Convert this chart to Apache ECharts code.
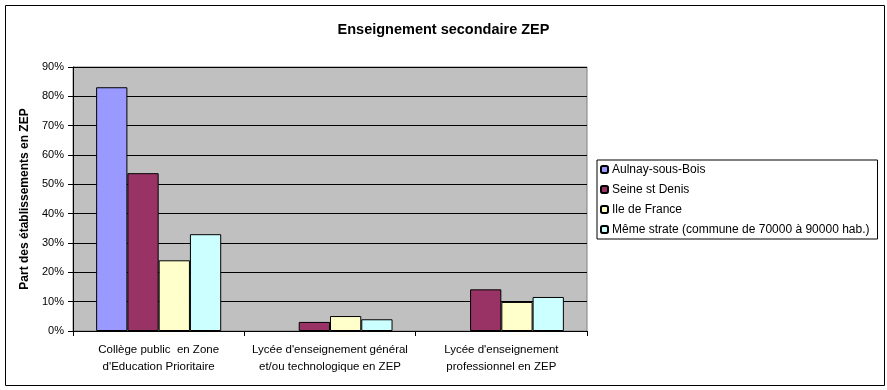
<!DOCTYPE html>
<html>
<head>
<meta charset="utf-8">
<script src="https://cdn.jsdelivr.net/npm/echarts@6/dist/echarts.min.js"></script>
<style>
html,body{margin:0;padding:0;background:#fff;}
#chart{width:887px;height:390px;}
</style>
</head>
<body>
<div id="chart"></div>
<script>
const categories = [
  "Collège public  en Zone\nd'Education Prioritaire",
  "Lycée d'enseignement général\net/ou technologique en ZEP",
  "Lycée d'enseignement\nprofessionnel en ZEP"
];
const seriesNames = ["Aulnay-sous-Bois", "Seine st Denis", "Ile de France", "Même strate (commune de 70000 à 90000 hab.)"];
const aulnay = [0.831, null, null];
const seineStDenis = [0.538, 0.031, 0.142];
const ileDeFrance = [0.241, 0.051, 0.099];
const memeStrate = [0.330, 0.040, 0.116];
const colors = ["#9999FF", "#993366", "#FFFFCC", "#CCFFFF"];
const values = [aulnay, seineStDenis, ileDeFrance, memeStrate];

const font = "Arial, 'Liberation Sans', sans-serif";
const chart = echarts.init(document.getElementById('chart'), null, {renderer: 'canvas'});
chart.setOption({
  animation: false,
  backgroundColor: '#ffffff',
  textStyle: {fontFamily: font, color: '#000'},
  title: {
    text: 'Enseignement secondaire ZEP',
    left: 'center',
    top: 17,
    textStyle: {fontFamily: font, fontSize: 14.5, fontWeight: 'bold', color: '#000'}
  },
  graphic: [{
    type: 'rect',
    shape: {x: 5.5, y: 5.5, width: 879, height: 380},
    style: {fill: 'none', stroke: '#000', lineWidth: 1},
    silent: true
  }],
  legend: {
    orient: 'vertical',
    left: 597,
    top: 160,
    itemWidth: 7,
    itemHeight: 7,
    itemGap: 7,
    padding: [3, 8, 3, 3],
    borderColor: '#000',
    borderWidth: 1,
    backgroundColor: '#fff',
    textStyle: {fontFamily: font, fontSize: 12, lineHeight: 13, color: '#000', padding: [0, 0, 0, -1]},
    data: seriesNames
  },
  grid: {
    left: 73, right: 300, top: 67, bottom: 59,
    show: true,
    backgroundColor: '#C0C0C0',
    borderColor: '#808080',
    borderWidth: 1
  },
  xAxis: {
    type: 'category',
    data: categories,
    axisLine: {lineStyle: {color: '#000', width: 1}},
    axisTick: {show: true, length: 5, lineStyle: {color: '#000'}},
    axisLabel: {fontFamily: font, fontSize: 11.5, color: '#000', lineHeight: 17, margin: 10, interval: 0}
  },
  yAxis: {
    type: 'value',
    min: 0, max: 0.9, interval: 0.1,
    name: 'Part des établissements en ZEP',
    nameLocation: 'middle',
    nameGap: 33,
    nameTextStyle: {fontFamily: font, fontSize: 12, fontWeight: 'bold', color: '#000'},
    axisLine: {show: true, lineStyle: {color: '#000', width: 1}},
    axisTick: {show: true, length: 5, lineStyle: {color: '#000'}},
    axisLabel: {fontFamily: font, fontSize: 11, color: '#000', margin: 9,
      formatter: v => Math.round(v * 100) + '%'},
    splitLine: {show: true, lineStyle: {color: '#000', width: 1}}
  },
  series: seriesNames.map((name, i) => ({
    name: name,
    type: 'bar',
    data: values[i],
    barGap: '0%',
    barCategoryGap: '27%',
    itemStyle: {color: colors[i], borderColor: '#000', borderWidth: 1}
  }))
});
</script>
</body>
</html>
